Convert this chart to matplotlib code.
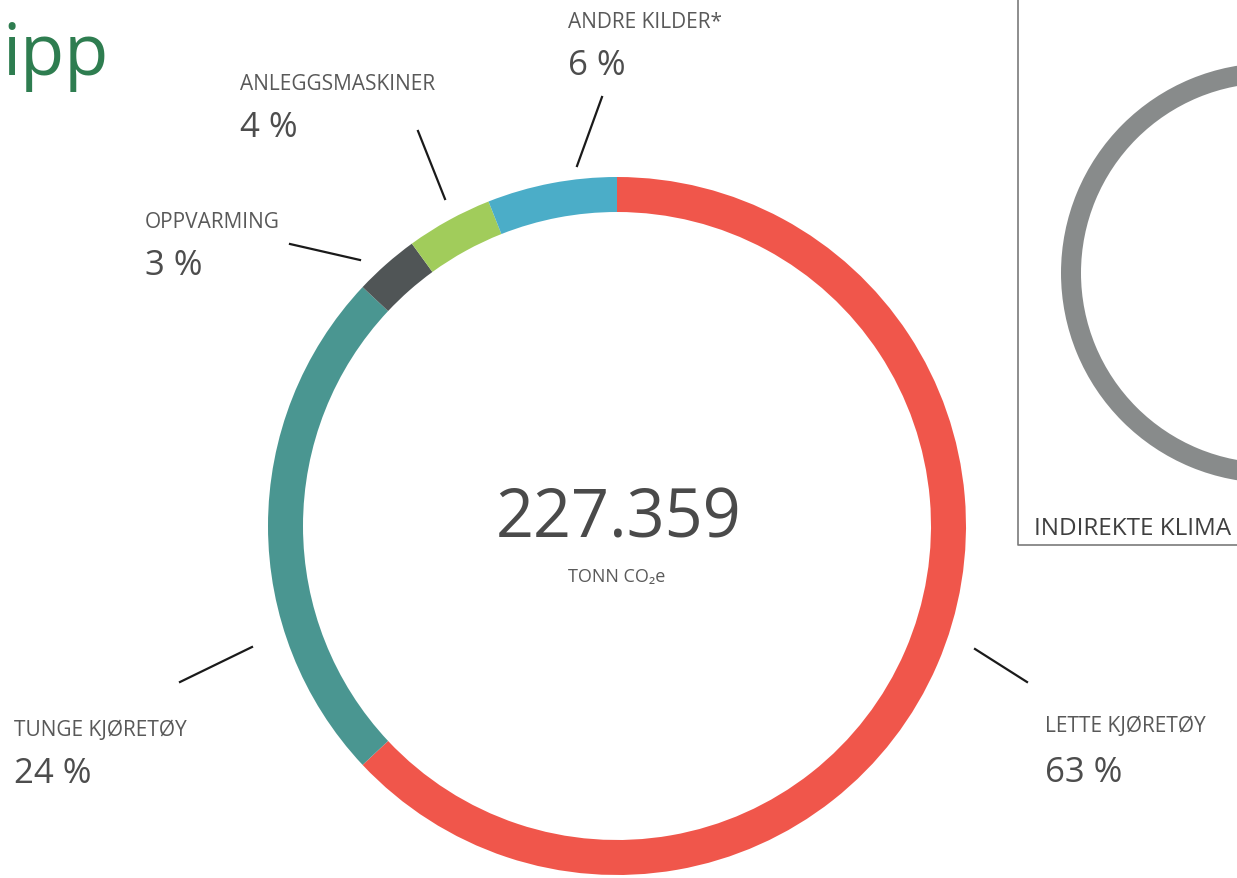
import matplotlib
matplotlib.use("Agg")
import matplotlib.pyplot as plt

# data
categories = ["LETTE KJØRETØY", "TUNGE KJØRETØY", "OPPVARMING", "ANLEGGSMASKINER", "ANDRE KILDER*"]
shares = [63, 24, 3, 4, 6]
colors = ["#F0564B", "#4A9691", "#505556", "#A1CC5B", "#4BADC8"]
total_label = "227.359"
unit_label = "TONN CO₂e"
panel_label = "INDIREKTE KLIMA"

# layout, in pixels of the 1237x879 picture (y measured from the top)
W, H = 1237, 879
label_pos = {
    "LETTE KJØRETØY": (1045, 732, 782),
    "TUNGE KJØRETØY": (14, 736, 783),
    "OPPVARMING": (145, 228, 275),
    "ANLEGGSMASKINER": (240, 90, 137),
    "ANDRE KILDER*": (568, 28, 75),
}
leaders = {
    "LETTE KJØRETØY": ((975, 650), (1027, 683)),
    "TUNGE KJØRETØY": ((180, 683), (252, 648)),
    "OPPVARMING": ((290, 245), (360, 261)),
    "ANLEGGSMASKINER": ((418, 132), (445, 200)),
    "ANDRE KILDER*": ((602, 98), (577, 167)),
}

FONT = ["Open Sans", "DejaVu Sans"]
plt.rcParams["font.family"] = FONT


def Y(py):
    return H - py


fig = plt.figure(figsize=(W / 100, H / 100), dpi=100)
ax = fig.add_axes([0, 0, 1, 1])

ax.pie(shares, colors=colors, startangle=90, counterclock=False,
       center=(617, Y(527)), radius=349,
       wedgeprops=dict(width=35, linewidth=0))

# side panel with the grey ring (cut by the picture edge)
ax.pie([1], colors=["#888B8B"], center=(1271, Y(274)), radius=210,
       wedgeprops=dict(width=20, linewidth=0))
ax.plot([1018, 1018, W + 5], [Y(-5), Y(546), Y(546)], color="#7A7A7A", lw=1.2,
        solid_capstyle="butt")
ax.text(1034, Y(535), panel_label, fontsize=17.5, color="#3F3F3F",
        ha="left", va="baseline")

# title fragment
ax.text(2, Y(75), "ipp", fontsize=52, color="#2E7D50", ha="left", va="baseline",
        fontweight="medium")

# centre
ax.text(619, Y(538), total_label, fontsize=48, color="#4A4A4A", ha="center", va="baseline")
ax.text(617, Y(582), unit_label, fontsize=13, color="#5A5A5A", ha="center", va="baseline")

for name, share in zip(categories, shares):
    x, y1, y2 = label_pos[name]
    ax.text(x, Y(y1), name, fontsize=15, color="#595959", ha="left", va="baseline")
    ax.text(x, Y(y2), f"{share} %", fontsize=25, color="#4D4D4D", ha="left", va="baseline")
    (x0, y0), (x1, y1_) = leaders[name]
    ax.plot([x0, x1], [Y(y0), Y(y1_)], color="#1A1A1A", lw=1.6)

ax.set_xlim(0, W)
ax.set_ylim(0, H)
ax.set_aspect("equal")
ax.axis("off")

fig.savefig("out.png", dpi=100)
